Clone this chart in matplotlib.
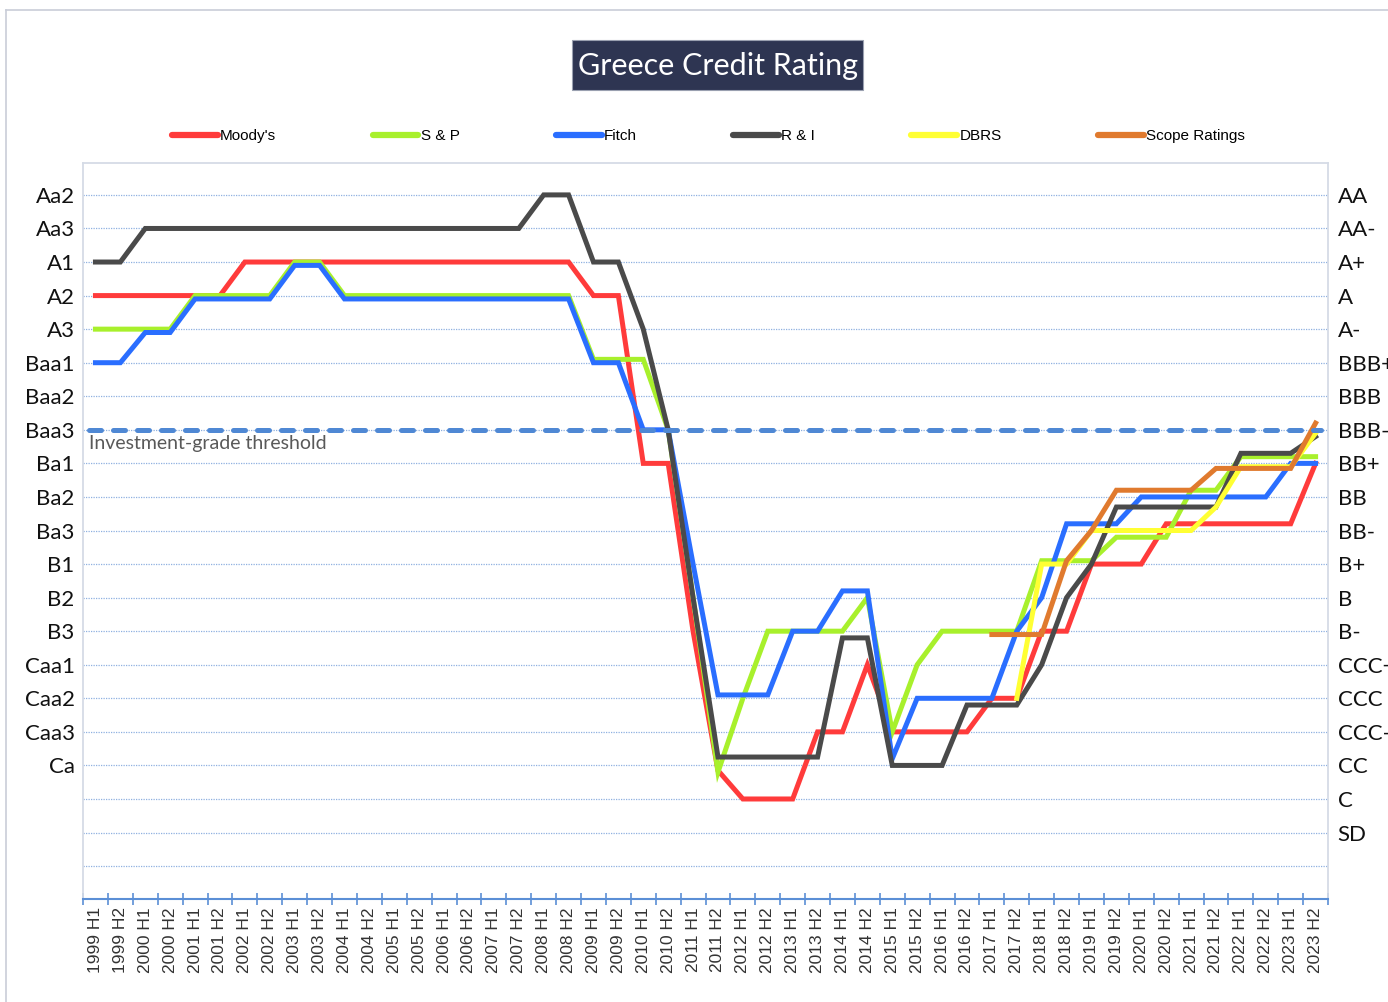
import matplotlib
matplotlib.use('Agg')
import matplotlib.pyplot as plt
from matplotlib.lines import Line2D
from matplotlib.patches import Rectangle
import numpy as np

nan = np.nan

# half-year periods 1999 H1 .. 2023 H2
periods = [f"{y} H{h}" for y in range(1999, 2024) for h in (1, 2)]

# rating notch scale (index = numeric level)
moodys_scale = ['', '', 'Ca', 'Caa3', 'Caa2', 'Caa1', 'B3', 'B2', 'B1', 'Ba3', 'Ba2', 'Ba1',
                'Baa3', 'Baa2', 'Baa1', 'A3', 'A2', 'A1', 'Aa3', 'Aa2']
sp_scale = ['SD', 'C', 'CC', 'CCC-', 'CCC', 'CCC+', 'B-', 'B', 'B+', 'BB-', 'BB', 'BB+',
            'BBB-', 'BBB', 'BBB+', 'A-', 'A', 'A+', 'AA-', 'AA']

moodys = ([16] * 6 + [17] * 14 + [16] * 2 + [11] * 2 + [6, 1.85] + [1] * 3 + [3] * 2 + [5]
          + [3] * 4 + [4] * 2 + [6] * 2 + [8] * 3 + [9.2] * 6 + [11])
sp = ([15] * 4 + [16] * 4 + [17] * 2 + [16] * 10 + [14.1] * 3 + [12, 7, 1.8, 4] + [6] * 4
      + [7, 3, 5] + [6] * 4 + [8.1] * 3 + [8.8] * 3 + [10.2] * 2 + [11.2] * 4)
fitch = ([14] * 2 + [14.9] * 2 + [15.9] * 4 + [16.9] * 2 + [15.9] * 10 + [14] * 2 + [12] * 2
         + [8] + [4.1] * 3 + [6] * 2 + [7.2] * 2 + [2.2] + [4] * 4 + [6, 7] + [9.2] * 3
         + [10] * 6 + [11] * 2)
ri = ([17] * 2 + [18] * 16 + [19] * 2 + [17] * 2 + [15, 12, 7] + [2.25] * 5 + [5.8] * 2
      + [2] * 3 + [3.8] * 3 + [5, 7, 8] + [9.7] * 5 + [11.3] * 3 + [11.8])
dbrs = [nan] * 37 + [4] + [8] * 2 + [9] * 5 + [9.7] + [10.9] * 3 + [11.9]
scope = [nan] * 36 + [5.9] * 3 + [8.1, 9] + [10.2] * 4 + [10.85] * 4 + [12.2]

threshold = 12

series = [("Moody's", moodys, '#FF3B3B'),
          ('S & P', sp, '#A8F02C'),
          ('Fitch', fitch, '#2A6EFF'),
          ('R & I', ri, '#4A4A4A'),
          ('DBRS', dbrs, '#FFFF33'),
          ('Scope Ratings', scope, '#E07A2E')]

fig = plt.figure(figsize=(13.88, 10.02), dpi=100)
ax = fig.add_axes([0.0598, 0.1028, 0.897, 0.7345])

x = np.arange(len(periods))

# dotted grid lines
for lv in range(-1, 20):
    ax.axhline(lv, color='#8FB0E0', lw=0.9, ls=(0, (1, 1)), zorder=1)

for name, vals, col in series:
    ax.plot(x, vals, color=col, lw=3.6, solid_joinstyle='miter', zorder=3, label=name)

# investment grade threshold
ax.plot([-0.25, 49.2], [threshold, threshold], color='#4F88D4', lw=3.6,
        dashes=(2.4, 2.4), dash_capstyle='round', zorder=4)
ax.text(-0.27, threshold - 0.42, 'Investment-grade threshold', fontsize=14,
        family='Lato', color='#595959', ha='left', va='center', zorder=5)

ax.set_xlim(-0.5, 49.5)
ax.set_ylim(-1.98, 19.95)

ax.set_xticks(x)
ax.set_xticklabels(periods, rotation=90, fontsize=12.5, family='Liberation Sans', color='#333333')
ax.set_xticks(np.arange(-0.5, 50, 1), minor=True)
ax.tick_params(axis='x', which='major', length=0, pad=6)
ax.tick_params(axis='x', which='minor', length=8, direction='inout', color='#5B8FD6', width=1.2)

ax.set_yticks(range(2, 20))
ax.set_yticklabels(moodys_scale[2:], fontsize=16, family='Lato', color='#111111')
ax.tick_params(axis='y', length=0, pad=6)

ax2 = ax.twinx()
ax2.set_ylim(ax.get_ylim())
ax2.set_yticks(range(0, 20))
ax2.set_yticklabels(sp_scale, fontsize=16, family='Lato', color='#111111')
ax2.tick_params(axis='y', length=0, pad=7)
for s in ax2.spines.values():
    s.set_visible(False)

for side in ['top', 'left', 'right']:
    ax.spines[side].set_color('#D5DBE6')
    ax.spines[side].set_linewidth(1.3)
ax.spines['bottom'].set_color('#5B8FD6')
ax.spines['bottom'].set_linewidth(1.5)

# title box
fig.patches.append(Rectangle((572 / 1388, 1 - 90 / 1002), 291 / 1388, 50 / 1002,
                             transform=fig.transFigure, facecolor='#2E3552',
                             edgecolor='#9AA0B0', lw=0.8))
fig.text(717.5 / 1388, 1 - 66 / 1002, 'Greece Credit Rating', color='white', fontsize=22,
         family='Lato', ha='center', va='center')

# legend
handles = [Line2D([0], [0], color=c, lw=4.5, solid_capstyle='round') for _, _, c in series]
fig.legend(handles, [n for n, _, _ in series], loc='center', bbox_to_anchor=(0.5105, 0.864),
           ncol=6, frameon=False, handlelength=3.0, handletextpad=0.15, columnspacing=6.3,
           prop={'family': 'Liberation Sans', 'size': 11})

# outer chart border
fig.add_artist(Line2D([6 / 1388, 1], [1 - 10 / 1002, 1 - 10 / 1002], transform=fig.transFigure,
                      color='#C9CDD8', lw=1.2))
fig.add_artist(Line2D([6 / 1388, 6 / 1388], [0, 1 - 10 / 1002], transform=fig.transFigure,
                      color='#C9CDD8', lw=1.2))

plt.savefig('out.png', dpi=100)
